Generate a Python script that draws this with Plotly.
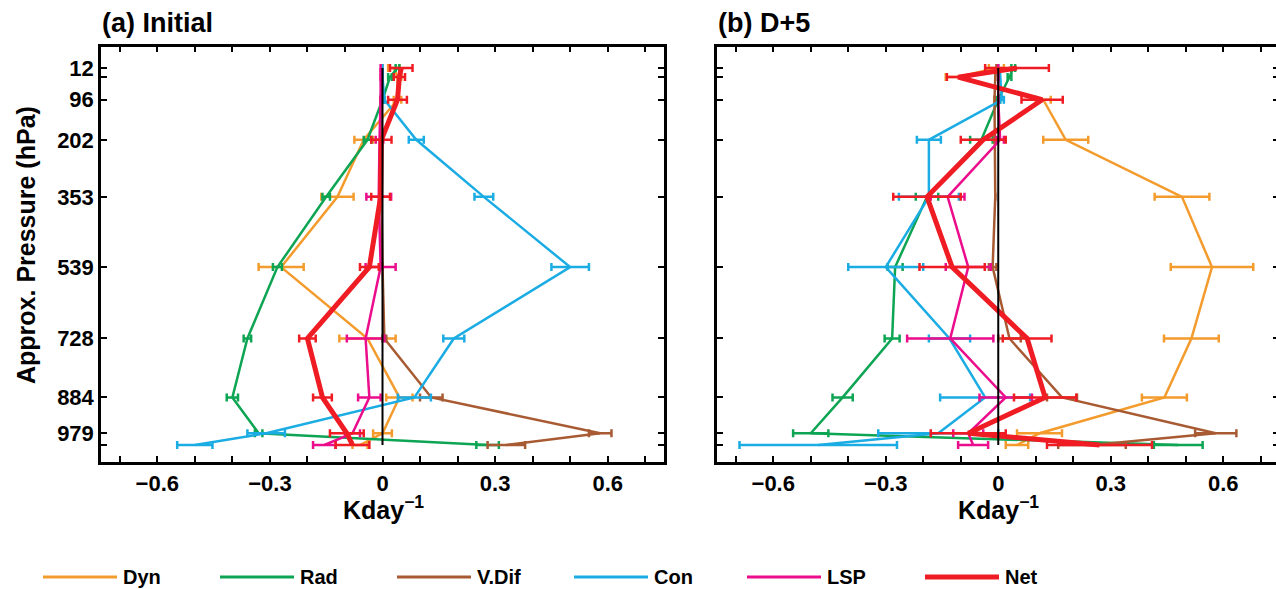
import plotly.graph_objects as go

W, H = 1276, 589

# ---------------- data ----------------
levels = [12, 36, 96, 202, 353, 539, 728, 884, 979, 1010]
labelled_levels = [12, 96, 202, 353, 539, 728, 884, 979]
level_labels = ['12', '96', '202', '353', '539', '728', '884', '979']
unlabelled_levels = [36, 1010]
xtick_vals = [-0.6, -0.3, 0.0, 0.3, 0.6]
xtick_text = ['\u22120.6', '\u22120.3', '0', '0.3', '0.6']
xminor_vals = [-0.7, -0.5, -0.4, -0.2, -0.1, 0.1, 0.2, 0.4, 0.5, 0.7]
series_names = ['Dyn', 'Rad', 'V.Dif', 'Con', 'LSP', 'Net']

# Panel (a) Initial
dyn_a = [0.03, 0.04, 0.04, -0.05, -0.12, -0.27, -0.04, 0.045, 0.0, -0.06]
dyn_a_err = [0.015, 0.01, 0.01, 0.025, 0.043, 0.06, 0.075, 0.035, 0.025, 0.02]
rad_a = [0.04, 0.02, 0.0, -0.04, -0.15, -0.28, -0.36, -0.40, -0.33, 0.28]
rad_a_err = [0.005, 0.005, 0.005, 0.01, 0.01, 0.012, 0.01, 0.015, 0.01, 0.03]
vdif_a = [0.0, 0.0, -0.005, -0.005, -0.003, 0.0, 0.005, 0.13, 0.58, 0.33]
vdif_a_err = [0.0, 0.0, 0.0, 0.0, 0.0, 0.0, 0.005, 0.03, 0.03, 0.05]
con_a = [0.0, 0.0, 0.005, 0.09, 0.27, 0.50, 0.19, 0.085, -0.31, -0.50]
con_a_err = [0.0, 0.0, 0.0, 0.02, 0.025, 0.05, 0.028, 0.044, 0.05, 0.047]
lsp_a = [-0.005, -0.005, -0.005, -0.008, -0.01, -0.005, -0.045, -0.035, -0.08, -0.155]
lsp_a_err = [0.0, 0.0, 0.0, 0.01, 0.033, 0.04, 0.05, 0.03, 0.02, 0.03]
net_a = [0.05, 0.045, 0.04, -0.003, -0.005, -0.035, -0.20, -0.16, -0.095, -0.08]
net_a_err = [0.03, 0.015, 0.025, 0.027, 0.025, 0.025, 0.022, 0.025, 0.045, 0.045]

# Panel (b) D+5
dyn_b = [-0.005, -0.11, 0.12, 0.18, 0.49, 0.57, 0.515, 0.443, 0.11, 0.05]
dyn_b_err = [0.02, 0.03, 0.02, 0.06, 0.073, 0.11, 0.073, 0.06, 0.06, 0.03]
rad_b = [0.04, 0.03, 0.0, -0.045, -0.19, -0.275, -0.283, -0.415, -0.50, 0.48]
rad_b_err = [0.005, 0.005, 0.005, 0.03, 0.03, 0.02, 0.02, 0.027, 0.047, 0.065]
vdif_b = [-0.005, -0.008, -0.01, -0.01, -0.008, -0.015, 0.03, 0.17, 0.58, 0.25]
vdif_b_err = [0.0, 0.0, 0.0, 0.0, 0.0, 0.01, 0.03, 0.04, 0.055, 0.09]
con_b = [0.0, 0.005, 0.01, -0.185, -0.185, -0.30, -0.13, -0.035, -0.16, -0.48]
con_b_err = [0.0, 0.0, 0.005, 0.032, 0.08, 0.10, 0.055, 0.12, 0.16, 0.21]
lsp_b = [0.0, 0.0, 0.0, 0.005, -0.135, -0.08, -0.128, 0.02, -0.08, -0.067]
lsp_b_err = [0.0, 0.0, 0.0, 0.01, 0.045, 0.06, 0.115, 0.07, 0.04, 0.04]
net_b = [0.05, -0.107, 0.117, -0.04, -0.19, -0.123, 0.077, 0.125, -0.08, 0.27]
net_b_err = [0.085, 0.03, 0.055, 0.06, 0.09, 0.087, 0.065, 0.083, 0.1, 0.14]

colors = {'Dyn': '#F49B2D', 'Rad': '#0DA553', 'V.Dif': '#A85A32',
          'Con': '#1BACE3', 'LSP': '#EB0D8C', 'Net': '#EF1C24'}
widths = {'Dyn': 2.5, 'Rad': 2.5, 'V.Dif': 2.5, 'Con': 2.5, 'LSP': 2.5, 'Net': 5}

panel_a = {'Dyn': (dyn_a, dyn_a_err), 'Rad': (rad_a, rad_a_err), 'V.Dif': (vdif_a, vdif_a_err),
           'Con': (con_a, con_a_err), 'LSP': (lsp_a, lsp_a_err), 'Net': (net_a, net_a_err)}
panel_b = {'Dyn': (dyn_b, dyn_b_err), 'Rad': (rad_b, rad_b_err), 'V.Dif': (vdif_b, vdif_b_err),
           'Con': (con_b, con_b_err), 'LSP': (lsp_b, lsp_b_err), 'Net': (net_b, net_b_err)}

FONT = 'Liberation Sans, Arial, Helvetica, sans-serif'
fig = go.Figure()

for panel, xa, ya in [(panel_a, 'x', 'y'), (panel_b, 'x2', 'y2')]:
    for name in series_names:
        vals, err = panel[name]
        fig.add_trace(go.Scatter(
            x=vals, y=levels, mode='lines', name=name, showlegend=False,
            xaxis=xa, yaxis=ya,
            line=dict(color=colors[name], width=widths[name]),
            error_x=dict(type='data', array=err, symmetric=True,
                         color=colors[name], thickness=2.5, width=4),
        ))
    fig.add_trace(go.Scatter(x=[0, 0], y=[levels[0], levels[-1]], mode='lines',
                             showlegend=False, xaxis=xa, yaxis=ya,
                             line=dict(color='black', width=2), hoverinfo='skip'))

# invisible trace to realise right-hand tick axis of panel b
fig.add_trace(go.Scatter(x=[0], y=[levels[0]], mode='markers', marker=dict(opacity=0),
                         showlegend=False, xaxis='x2', yaxis='y3', hoverinfo='skip'))


def px_x(p):
    return p / W


def px_y(p):
    return 1 - p / H


yr = [1055, -45]
ydom = [px_y(462), px_y(46.5)]
tickfont = dict(family=FONT, size=22, color='black', weight='bold')
axis_common = dict(showgrid=False, zeroline=False, showline=True, linecolor='black',
                   linewidth=2.5, ticks='inside', tickcolor='black', tickwidth=2,
                   ticklen=6, tickfont=tickfont)

xminor = dict(tickvals=xminor_vals, ticks='inside', ticklen=6, tickwidth=2,
              tickcolor='black', showgrid=False)
yminor = dict(tickvals=unlabelled_levels, ticks='inside', ticklen=6, tickwidth=2,
              tickcolor='black', showgrid=False)

xcommon = dict(axis_common, range=[-0.75, 0.75], tickvals=xtick_vals, ticktext=xtick_text,
               mirror='ticks', minor=xminor)
fig.update_layout(
    width=W, height=H, margin=dict(l=0, r=0, t=0, b=0),
    paper_bgcolor='white', plot_bgcolor='white',
    xaxis=dict(xcommon, domain=[px_x(101), px_x(664)], anchor='y'),
    xaxis2=dict(xcommon, domain=[px_x(717), 1.0], anchor='y2',
                range=[-0.75, -0.75 + (W - 717) / 375.0]),
    yaxis=dict(axis_common, domain=ydom, range=yr, anchor='x', mirror='ticks',
               tickvals=labelled_levels, ticktext=level_labels, minor=yminor),
    yaxis2=dict(axis_common, domain=ydom, range=yr, anchor='x2', mirror=False,
                tickvals=labelled_levels, showticklabels=False, minor=yminor),
    yaxis3=dict(showgrid=False, zeroline=False, showline=False, overlaying='y2', side='right',
                anchor='x2', range=yr, ticks='inside', tickcolor='black', tickwidth=2,
                ticklen=3, tickvals=levels, showticklabels=False),
)

# axis titles
fig.add_annotation(text='Approx. Pressure (hPa)', xref='paper', yref='paper',
                   x=px_x(26), y=px_y(245), textangle=-90, showarrow=False,
                   xanchor='center', yanchor='middle',
                   font=dict(family=FONT, size=25, color='black', weight='bold'))
for xc in [383, 998]:
    fig.add_annotation(text='Kday<sup>\u22121</sup>', xref='paper', yref='paper',
                       x=px_x(xc), y=px_y(508), showarrow=False,
                       xanchor='center', yanchor='middle',
                       font=dict(family=FONT, size=25, color='black', weight='bold'))

# panel titles
for txt, xp in [('(a) Initial', 100), ('(b) D+5', 716)]:
    fig.add_annotation(text=txt, xref='paper', yref='paper', x=px_x(xp), y=px_y(23),
                       xanchor='left', yanchor='middle', showarrow=False,
                       font=dict(family=FONT, size=27, color='black', weight='bold'))

# legend (manual, to match long line samples)
leg_start = [43, 220, 397, 574, 747, 925]
for i, name in enumerate(series_names):
    x0 = leg_start[i]
    fig.add_shape(type='line', xref='paper', yref='paper',
                  x0=px_x(x0), x1=px_x(x0 + 74), y0=px_y(577), y1=px_y(577),
                  line=dict(color=colors[name], width=3 if name != 'Net' else 5))
    fig.add_annotation(text=name, xref='paper', yref='paper', x=px_x(x0 + 78), y=px_y(577),
                       xanchor='left', yanchor='middle', showarrow=False,
                       font=dict(family=FONT, size=20, color='black', weight='bold'))

fig.write_html('out.html')
